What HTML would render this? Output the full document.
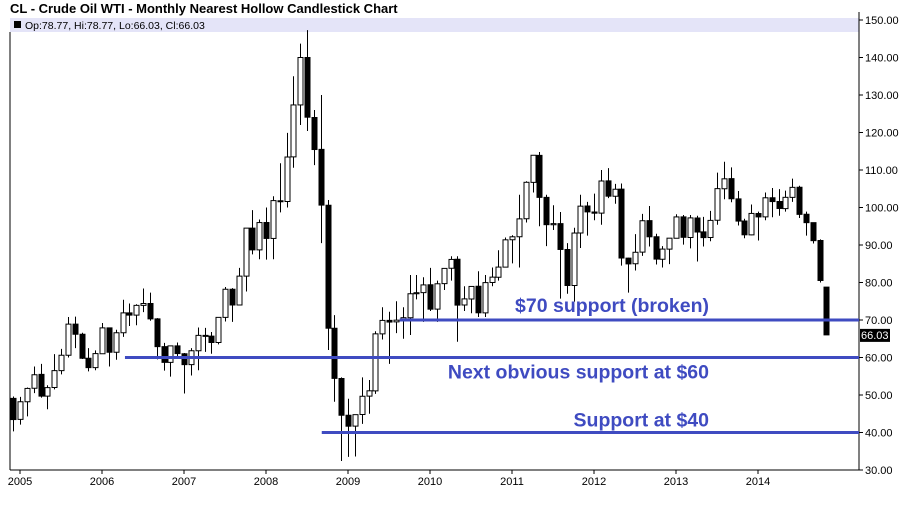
<!DOCTYPE html>
<html><head><meta charset="utf-8"><style>
html,body{margin:0;padding:0;background:#fff;}
body{width:900px;height:511px;overflow:hidden;font-family:"Liberation Sans",sans-serif;}
</style></head><body>
<svg id="chart" width="900" height="511" xmlns="http://www.w3.org/2000/svg" font-family="Liberation Sans, sans-serif">
<text x="10" y="13" font-size="13" font-weight="bold" fill="#000">CL - Crude Oil WTI - Monthly Nearest Hollow Candlestick Chart</text>
<rect x="10" y="18" width="849" height="14" fill="#e4e4f8"/>
<rect x="14" y="21" width="7" height="7" fill="#000"/>
<text x="25" y="29" font-size="10.5" fill="#000">Op:78.77, Hi:78.77, Lo:66.03, Cl:66.03</text>
<g id="plot"></g>
</svg>
<script>
const startYear = 2004, startMonth = 11; // Dec 2004
const opens = [49.1,43.5,48.2,51.8,55.5,49.7,52,56.5,60.6,68.9,66.2,59.8,57.3,61,67.9,61.4,66.6,71.9,71.3,73.9,74.4,70.3,62.9,58.7,63.1,61,58.1,61.8,65.9,65.7,64,70.7,78.2,74,81.7,94.5,88.7,96,91.75,101.8,101.6,113.5,127.35,140,124,115.5,100.6,67.8,54.4,44.6,41.7,44.8,49.7,51.1,66.3,69.9,69.5,70,70.6,77,77.3,79.4,72.9,79.7,83.8,86.2,74,75.6,79,71.9,80,81.4,84.1,91.4,92.2,97,106.7,113.9,102.7,95.4,95.7,88.8,79.2,93.2,100.4,98.8,98.5,107.1,103,104.9,86.5,85,88.1,96.5,92.2,86.2,88.9,91.8,97.5,92,97.2,93.5,92,96.6,105,107.7,102.3,96.4,92.7,98.4,97.5,102.6,101.6,99.7,102.7,105.4,98.2,95.96,91.2,78.77];
const highs = [49.6,49.5,52,57.6,58.3,52.6,60.9,62.3,70.8,70.9,66.6,62.5,61.9,69.2,68,67.4,75.4,74.4,74.2,78.4,77.3,70.5,63.9,62.8,64,61.2,62.5,68,67.9,66.8,70.5,78.8,78.5,83.9,94.5,99.3,96.8,100,103,111.8,119.9,135,143.7,147.3,126,130,102,71.3,54.7,49,43.8,54.7,54,67,73.4,72.2,75,73.4,82,82,81.4,83.9,80.5,83.2,87,87,79,79,83,82,84,88.6,92,92.6,103.4,107,114,114.8,103.4,100.6,98.8,90.5,94.6,103.4,101.5,103.7,110,110.5,106.3,106.4,86.6,92.9,98.3,100.4,93,89.7,91.6,98.2,98,98,97.8,97.5,99.1,109.3,112.2,110.7,104.4,97,100.8,98.9,104,105.2,104.9,104.5,107.7,105.8,98.9,95.96,91.5,78.77];
const lows = [40.3,42.1,44.3,50.5,49.3,46.2,51.5,55.5,60,62.5,59.6,56.3,56.6,61,57.6,59.4,65.5,68.4,68.6,72.1,69.8,59.5,56.5,54.9,60.3,50.4,55.2,56.6,61.5,61,63.5,69.6,69.5,73.9,77.6,87.5,86.2,86.1,86.2,98.7,100,110.6,122,120.4,111.3,90.5,62,48.2,32.4,33.5,33.6,42.3,45,50.3,64.8,58.3,66.5,65,66,75.5,69.5,72.4,69.5,78,80.5,64.2,72.4,71.8,70.8,70.8,79,80.5,85,85.1,84,96,104,95,89.7,94,75.7,77,74.9,89.2,92.5,96.6,95.4,102.5,101,84.5,77.3,83.2,87.1,89.6,84.8,84,84.9,91.9,90.1,89.1,85.6,89.6,91,95.4,102.2,101.4,95.2,91.8,92.6,91.2,96.6,97.4,97.8,98.9,101.5,97.2,92.5,90.4,80,66.03];
const closes = [43.45,48.2,51.75,55.4,49.7,51.97,56.5,60.6,68.9,66.2,59.8,57.3,61.04,67.9,61.4,66.6,71.9,71.3,73.9,74.4,70.3,62.9,58.7,63.1,61.05,58.1,61.8,65.9,65.7,64,70.7,78.2,74,81.7,94.5,88.7,95.98,91.75,101.84,101.58,113.46,127.35,140,124.08,115.46,100.64,67.81,54.43,44.6,41.68,44.76,49.66,51.12,66.31,69.89,69.45,69.96,70.61,77,77.28,79.36,72.89,79.66,83.76,86.15,73.97,75.63,78.95,71.92,79.97,81.43,84.11,91.38,92.19,96.97,106.72,113.93,102.7,95.42,95.7,88.81,79.2,93.19,100.36,98.83,98.48,107.07,103.02,104.87,86.53,84.96,88.06,96.47,92.19,86.24,88.91,91.82,97.49,92.05,97.23,93.46,91.97,96.56,105.03,107.65,102.33,96.38,92.72,98.42,97.49,102.59,101.58,99.74,102.71,105.37,98.17,95.96,91.16,80.54,66.03];
const yTicks = [30,40,50,60,70,80,90,100,110,120,130,140,150];
const xYears = [2005,2006,2007,2008,2009,2010,2011,2012,2013,2014];
const supports = [70,60,40];
const supportStart = [2009.63,2006.28,2008.68];
const supportText = ["$70 support (broken)","Next obvious support at $60","Support at $40"];
const lastPrice = 66.03;

const NS="http://www.w3.org/2000/svg";
const plot=document.getElementById('plot');
const L=10,R=859,T=20,B=470;
const y=v=>B-(v-30)*(B-T)/120;
const x=t=>20+(t-2005)*82;
const xi=i=>x(startYear+(startMonth+i)/12);
function mk(tag,attrs,parent){const e=document.createElementNS(NS,tag);for(const k in attrs)e.setAttribute(k,attrs[k]);(parent||plot).appendChild(e);return e;}

let e=mk('line',{x1:L,y1:32,x2:L,y2:B,stroke:'#000','stroke-width':1});


e=mk('line',{x1:L,y1:B,x2:R,y2:B,stroke:'#000','stroke-width':1});


e=mk('line',{x1:R,y1:12,x2:R,y2:B,stroke:'#000','stroke-width':1});



yTicks.forEach(v=>{
  const t=mk('line',{x1:R,y1:y(v),x2:R+4,y2:y(v),stroke:'#000'});
  
  
  const tx=mk('text',{x:R+6,y:y(v)+4,'font-size':11,fill:'#000'});
  tx.textContent=v.toFixed(2);
  
  
});
xYears.forEach(yr=>{
  const t=mk('line',{x1:x(yr),y1:B,x2:x(yr),y2:B+4,stroke:'#000'});
  
  
  const tx=mk('text',{x:x(yr),y:B+15,'font-size':11,fill:'#000','text-anchor':'middle'});
  tx.textContent=yr;
  
  
});

opens.forEach((o,i)=>{
  const c=closes[i],cx=Math.round(xi(i))+0.5;
  const g=mk('g',{});
  
  
  mk('line',{x1:cx,y1:y(highs[i]),x2:cx,y2:y(lows[i]),stroke:'#000','stroke-width':1},g);
  const up=c>o, top=y(Math.max(o,c)), h=Math.max(1,Math.abs(y(o)-y(c)));
  mk('rect',{x:cx-2.5,y:top,width:5,height:h,fill:up?'#fff':'#000',stroke:'#000','stroke-width':1},g);
});

supports.forEach((v,i)=>{
  const l=mk('line',{x1:x(supportStart[i]),y1:y(v),x2:R,y2:y(v),stroke:'#3f4bc1','stroke-width':3});
  
  
  const tx=mk('text',{x:709,y:y(v)+(i===0?-8:i===1?21:-6),'font-size':19.5,'font-weight':'bold',fill:'#3f4bc1','text-anchor':'end'});
  tx.textContent=supportText[i];
  
  
});

const r=mk('rect',{x:R+1,y:y(lastPrice)-6,width:30,height:13,fill:'#000'});


const lt=mk('text',{x:R+2,y:y(lastPrice)+4,'font-size':11,fill:'#fff'});
lt.textContent=lastPrice.toFixed(2);


</script>
</body></html>
